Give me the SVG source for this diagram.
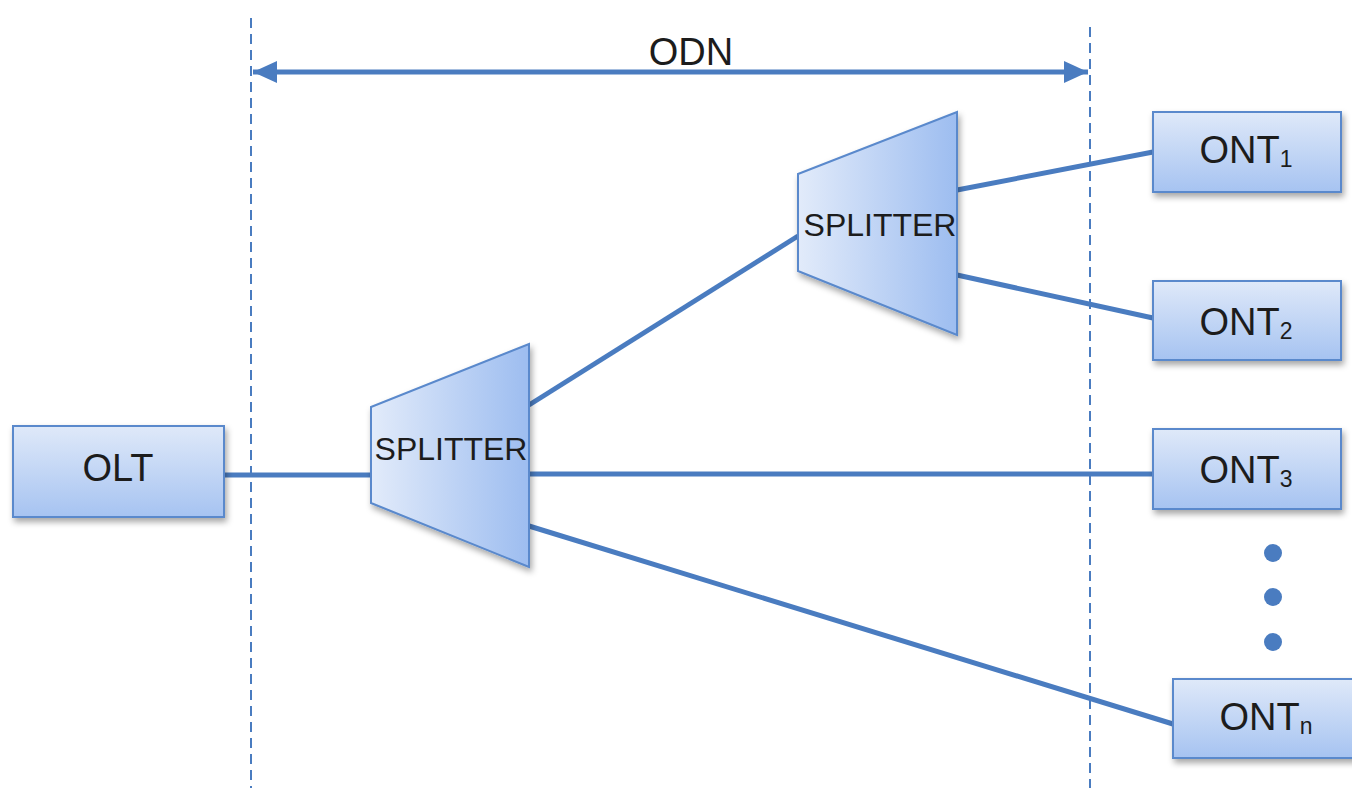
<svg xmlns="http://www.w3.org/2000/svg" width="1352" height="788" viewBox="0 0 1352 788">
  <defs>
    <linearGradient id="boxGrad" x1="0" y1="0" x2="0" y2="1">
      <stop offset="0" stop-color="#dfe9f9"/>
      <stop offset="1" stop-color="#a6c3f1"/>
    </linearGradient>
    <linearGradient id="splitGrad" x1="0" y1="0" x2="1" y2="0">
      <stop offset="0" stop-color="#e2ebfa"/>
      <stop offset="1" stop-color="#9dbdf0"/>
    </linearGradient>
    <filter id="shadow" x="-10%" y="-10%" width="130%" height="140%">
      <feDropShadow dx="2" dy="4" stdDeviation="3" flood-color="#000" flood-opacity="0.35"/>
    </filter>
    <marker id="arrowHead" viewBox="0 0 24 22" refX="24" refY="11" markerWidth="24" markerHeight="22" markerUnits="userSpaceOnUse" orient="auto-start-reverse">
      <path d="M0,0 L24,11 L0,22 z" fill="#4a7cc0"/>
    </marker>
    <style>
      .box { fill: url(#boxGrad); stroke: #5a89cc; stroke-width: 2; filter: url(#shadow); }
      .split { fill: url(#splitGrad); stroke: #5a89cc; stroke-width: 2; filter: url(#shadow); }
      .lbl { font-family: "Liberation Sans", Arial, sans-serif; font-size: 38px; fill: #1c1c1c; text-anchor: middle; }
      .sp { font-family: "Liberation Sans", Arial, sans-serif; font-size: 32px; fill: #1c1c1c; text-anchor: middle; }
      .sub { font-size: 23px; }
      .link { stroke: #4a7cc0; stroke-width: 5; fill: none; }
      .dash { stroke: #4a7cc0; stroke-width: 2; stroke-dasharray: 10 6; fill: none; }
      .dot { fill: #4a7cc0; }
    </style>
  </defs>

  <g id="boundaries">
    <line class="dash" x1="251" y1="18" x2="251" y2="788"/>
    <line class="dash" x1="1090" y1="27" x2="1090" y2="788"/>
  </g>

  <g id="odn">
    <line class="link" x1="253" y1="72" x2="1088" y2="72" stroke-width="4" marker-start="url(#arrowHead)" marker-end="url(#arrowHead)"/>
    <text class="lbl" x="691" y="65">ODN</text>
  </g>

  <g id="connectors">
    <line class="link" x1="224" y1="475" x2="371" y2="475"/>
    <line class="link" x1="529" y1="405" x2="798" y2="236"/>
    <line class="link" x1="529" y1="474" x2="1153" y2="474"/>
    <line class="link" x1="529" y1="526" x2="1173" y2="724"/>
    <line class="link" x1="957" y1="190" x2="1153" y2="152"/>
    <line class="link" x1="957" y1="275" x2="1153" y2="318"/>
  </g>

  <g id="olt">
    <rect class="box" x="13" y="426" width="211" height="91"/>
    <text class="lbl" x="118" y="481">OLT</text>
  </g>

  <g id="splitter1">
    <polygon class="split" points="371,407 529,344 529,567 371,503"/>
    <text class="sp" x="451" y="460">SPLITTER</text>
  </g>

  <g id="splitter2">
    <polygon class="split" points="798,174 957,112 957,335 798,271"/>
    <text class="sp" x="880" y="236">SPLITTER</text>
  </g>

  <g id="ont1">
    <rect class="box" x="1153" y="112" width="188" height="80"/>
    <text class="lbl" x="1246" y="163">ONT<tspan class="sub" dy="4">1</tspan></text>
  </g>

  <g id="ont2">
    <rect class="box" x="1153" y="281" width="188" height="79"/>
    <text class="lbl" x="1246" y="335">ONT<tspan class="sub" dy="4">2</tspan></text>
  </g>

  <g id="ont3">
    <rect class="box" x="1153" y="429" width="188" height="80"/>
    <text class="lbl" x="1246" y="483">ONT<tspan class="sub" dy="4">3</tspan></text>
  </g>

  <g id="ellipsis">
    <circle class="dot" cx="1273" cy="553" r="9"/>
    <circle class="dot" cx="1273" cy="597" r="9"/>
    <circle class="dot" cx="1273" cy="642" r="9"/>
  </g>

  <g id="ontn">
    <rect class="box" x="1173" y="679" width="190" height="79"/>
    <text class="lbl" x="1266" y="730">ONT<tspan class="sub" dy="4">n</tspan></text>
  </g>
</svg>
